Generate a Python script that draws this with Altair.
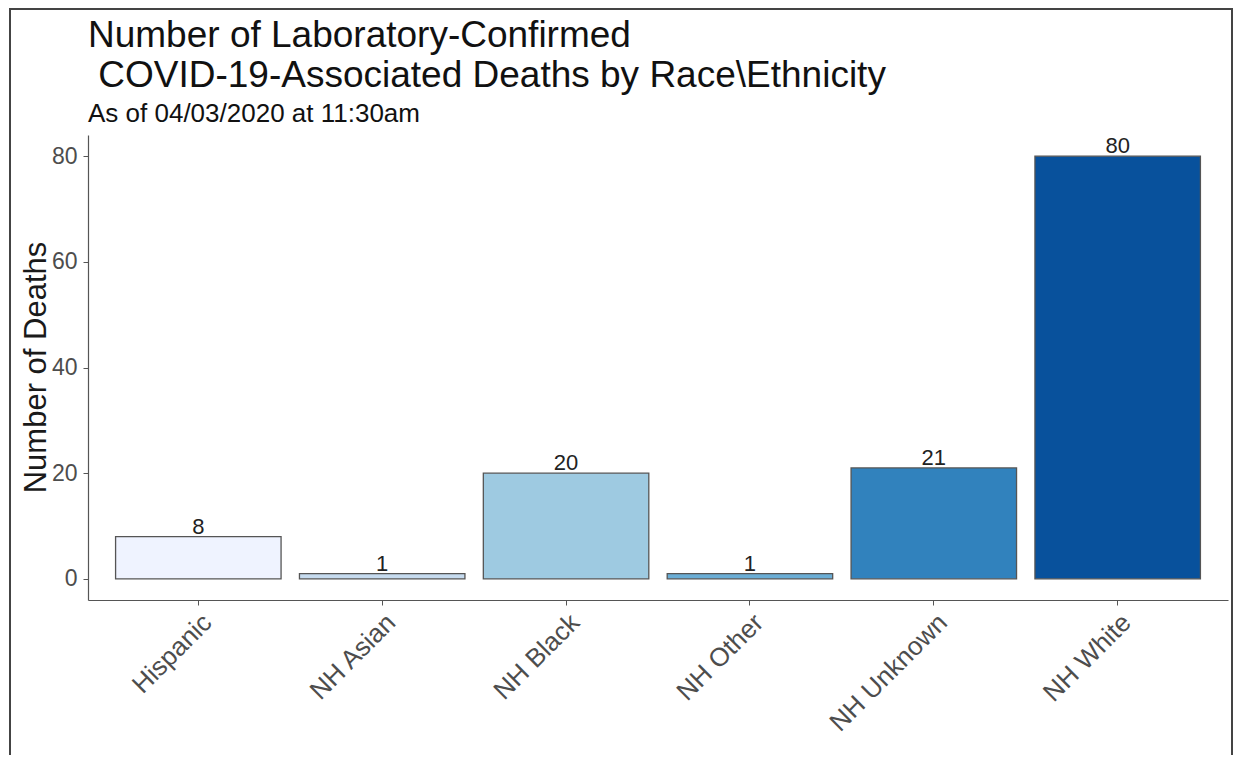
import altair as alt
import pandas as pd

categories = ["Hispanic", "NH Asian", "NH Black", "NH Other", "NH Unknown", "NH White"]
deaths = [8, 1, 20, 1, 21, 80]
colors = ["#eff3ff", "#c6dbef", "#9ecae1", "#6baed6", "#3182bd", "#08519c"]
y_ticks = [0, 20, 40, 60, 80]

df = pd.DataFrame({"category": categories, "deaths": deaths, "base": [0] * len(deaths)})

FONT = "Liberation Sans"

x_enc = alt.X(
    "category:N",
    sort=categories,
    scale=alt.Scale(paddingInner=0.1, paddingOuter=0.15),
    axis=alt.Axis(
        title=None,
        labelAngle=-45,
        labelAlign="right",
        labelBaseline="top",
        labelFontSize=26,
        labelColor="#4d4d4d",
        labelFont=FONT,
        labelPadding=4,
        tickSize=5,
        tickColor="#555555",
        domainColor="#555555",
        domainWidth=1.2,
    ),
)

y_scale = alt.Scale(domain=[-4, 84], nice=False, zero=False)

bars = alt.Chart(df).mark_bar(stroke="#555555", strokeWidth=1.3).encode(
    x=x_enc,
    y=alt.Y(
        "deaths:Q",
        scale=y_scale,
        axis=alt.Axis(
            values=y_ticks,
            title="Number of Deaths",
            titleFontSize=31,
            titleFont=FONT,
            titleFontWeight="normal",
            titleColor="#1a1a1a",
            titleAngle=-90,
            titleX=-52,
            titleY=232,
            titleAlign="center",
            titleBaseline="middle",
            labelFontSize=23,
            labelColor="#4d4d4d",
            labelFont=FONT,
            labelPadding=6,
            tickSize=5,
            tickColor="#555555",
            domainColor="#555555",
            domainWidth=1.2,
            grid=False,
        ),
    ),
    y2="base:Q",
    color=alt.Color("category:N", scale=alt.Scale(domain=categories, range=colors), legend=None),
)

labels = alt.Chart(df).mark_text(
    baseline="alphabetic", dy=-3, fontSize=22, font=FONT, color="#222222"
).encode(
    x=alt.X("category:N", sort=categories),
    y=alt.Y("deaths:Q", scale=y_scale),
    text="deaths:Q",
)

frame = alt.Chart(alt.Data(values=[{"k": 1}])).mark_rect(
    filled=False, stroke="#444444", strokeWidth=2
).encode(
    x=alt.value(-78), x2=alt.value(1144), y=alt.value(-126), y2=alt.value(900)
)

chart = alt.layer(bars, labels, frame).properties(
    width=1140,
    height=465,
    autosize=alt.AutoSizeParams(type="none"),
    padding={"left": 80, "top": 127, "right": 5, "bottom": 155},
    title=alt.TitleParams(
        text=["Number of Laboratory-Confirmed", "\u200b\u00a0COVID-19-Associated Deaths by Race\\Ethnicity"],
        subtitle="As of 04/03/2020 at 11:30am",
        anchor="start",
        frame="group",
        font=FONT,
        fontSize=37,
        fontWeight="normal",
        lineHeight=40,
        color="#111111",
        subtitleFont=FONT,
        subtitleFontSize=26,
        subtitleColor="#111111",
        subtitlePadding=6,
        offset=-120,
    ),
).configure(background="white").configure_view(stroke=None)

chart.save("out.html", embed_options={"renderer": "svg", "actions": False})
